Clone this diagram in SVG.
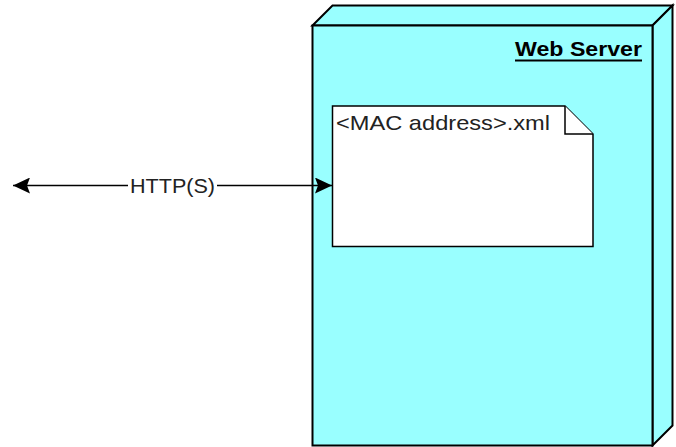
<svg xmlns="http://www.w3.org/2000/svg" width="676" height="447" viewBox="0 0 676 447">
<style>
.shape{fill:#99FFFF;stroke:#000;stroke-width:2;stroke-linejoin:miter}
.doc{fill:#fff;stroke:#000;stroke-width:1.5}
.t{font-family:"Liberation Sans",Arial,sans-serif;fill:#222}
.line{stroke:#000;stroke-width:1.5;fill:none}
</style>
<defs>
<marker id="ah" viewBox="0 0 17 16" refX="17" refY="8" markerWidth="17" markerHeight="16" markerUnits="userSpaceOnUse" orient="auto-start-reverse">
<path d="M0,0 L17,8 L0,16 L3,8 Z" fill="#000"/>
</marker>
</defs>
<rect width="676" height="447" fill="#fff"/>
<g id="web-server">
<polygon class="shape" points="312.5,25.5 332.5,5.5 672.5,5.5 652.5,25.5"/>
<polygon class="shape" points="652.5,25.5 672.5,5.5 672.5,425.5 652.5,445.5"/>
<rect class="shape" x="312.5" y="25.5" width="340" height="420"/>
<text class="t" x="642" y="56" text-anchor="end" font-size="20" font-weight="bold" textLength="127" lengthAdjust="spacingAndGlyphs" style="fill:#000">Web Server</text>
<line x1="515" y1="60.5" x2="642" y2="60.5" stroke="#000" stroke-width="2"/>
</g>
<g id="mac-xml">
<path class="doc" d="M332.5,106 L565,106 L593,134 L593,246.5 L332.5,246.5 Z"/>
<path class="doc" d="M565,106 L565,134 L593,134"/>
<text class="t" x="336" y="130" font-size="21" textLength="214" lengthAdjust="spacingAndGlyphs">&lt;MAC address&gt;.xml</text>
</g>
<g id="connectors">
<line class="line" x1="13" y1="185.5" x2="332" y2="185.5" marker-start="url(#ah)" marker-end="url(#ah)"/>
<rect x="128" y="176" width="89" height="20" fill="#fff"/>
<text class="t" x="172.5" y="193" font-size="21" text-anchor="middle" textLength="85" lengthAdjust="spacingAndGlyphs">HTTP(S)</text>
</g>
</svg>
